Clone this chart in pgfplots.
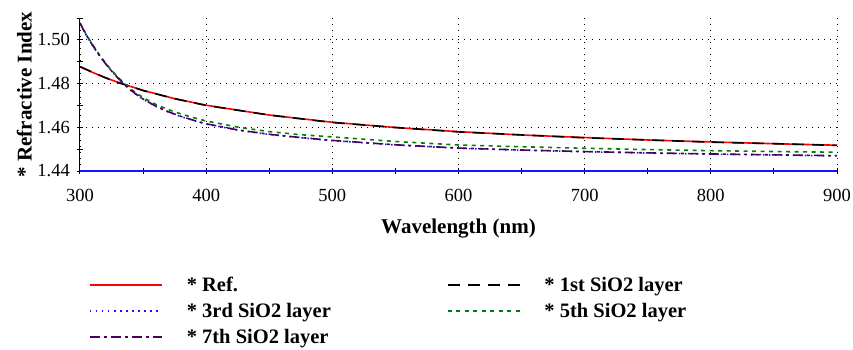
\documentclass[border=0pt]{standalone}
\usepackage{fontspec}
\setmainfont{Liberation Serif}
\usepackage{pgfplots}
\usepackage{pgfplotstable}
\pgfplotsset{compat=1.18}

\definecolor{refred}{RGB}{255,0,0}
\definecolor{layblue}{RGB}{20,20,255}
\definecolor{laygreen}{RGB}{0,128,0}
\definecolor{laypurple}{RGB}{72,0,96}

% Reference index of bulk silica
\pgfplotstableread{
wl n
300 1.4878
310 1.4851
320 1.4827
330 1.4806
340 1.4787
350 1.4769
375 1.4731
400 1.4701
450 1.4656
500 1.4623
550 1.4599
600 1.4580
650 1.4565
700 1.4553
750 1.4542
800 1.4533
850 1.4525
900 1.4518
}\refdata

% 1st SiO2 layer
\pgfplotstableread{
wl n
300 1.4877
310 1.4852
320 1.4827
330 1.4805
340 1.4787
350 1.4768
375 1.4731
400 1.4700
450 1.4656
500 1.4622
550 1.4599
600 1.4579
650 1.4565
700 1.4552
750 1.4542
800 1.4532
850 1.4525
900 1.4517
}\firstdata

% 3rd SiO2 layer
\pgfplotstableread{
wl n
300 1.5075
305 1.5021
310 1.4974
315 1.4931
320 1.4892
325 1.4857
330 1.4825
335 1.4796
340 1.4770
345 1.4748
350 1.4728
360 1.4696
370 1.4670
380 1.4649
390 1.4631
400 1.4615
425 1.4587
450 1.4567
475 1.4552
500 1.4539
550 1.4519
600 1.4504
650 1.4495
700 1.4488
750 1.4482
800 1.4477
850 1.4473
900 1.4469
}\thirddata

% 5th SiO2 layer
\pgfplotstableread{
wl n
300 1.5078
305 1.5024
310 1.4978
315 1.4935
320 1.4896
325 1.4861
330 1.4830
335 1.4801
340 1.4776
345 1.4755
350 1.4736
360 1.4705
370 1.4681
380 1.4661
390 1.4644
400 1.4629
425 1.4601
450 1.4580
475 1.4566
500 1.4556
550 1.4535
600 1.4519
650 1.4511
700 1.4504
750 1.4498
800 1.4493
850 1.4489
900 1.4486
}\fifthdata

% 7th SiO2 layer
\pgfplotstableread{
wl n
300 1.5076
305 1.5022
310 1.4975
315 1.4932
320 1.4893
325 1.4858
330 1.4826
335 1.4797
340 1.4771
345 1.4749
350 1.4729
360 1.4697
370 1.4671
380 1.4650
390 1.4632
400 1.4616
425 1.4588
450 1.4568
475 1.4553
500 1.4540
550 1.4520
600 1.4505
650 1.4496
700 1.4489
750 1.4483
800 1.4478
850 1.4474
900 1.4470
}\seventhdata

\begin{document}
\begin{tikzpicture}
\useasboundingbox (-80pt,-178pt) rectangle (773pt,171pt);
\begin{axis}[
  scale only axis,
  width=757pt, height=153pt,
  xmin=300, xmax=900, ymin=1.44, ymax=1.51,
  axis x line*=bottom, axis y line*=left,
  x axis line style={layblue, line width=1.8pt, -},
  y axis line style={black, line width=1pt, -},
  xtick={300,400,...,900}, minor xtick={350,450,...,850},
  ytick={1.44,1.46,1.48,1.50}, minor ytick={1.45,1.47,1.49,1.51},
  tick align=center, major tick length=6pt, minor tick length=6pt,
  every tick/.style={black, line width=1pt},
  xmajorgrids, ymajorgrids,
  major grid style={black, line width=0.8pt, dash pattern=on 0.9pt off 5.2pt},
  /pgf/number format/assume math mode=true,
  yticklabel style={/pgf/number format/fixed, /pgf/number format/fixed zerofill,
    /pgf/number format/precision=2},
  xticklabel style={/pgf/number format/fixed,
    /pgf/number format/set thousands separator={}},
  ticklabel style={font=\fontsize{18.5}{20}\selectfont},
  xticklabel style={inner sep=0pt, anchor=north, yshift=-15pt},
  yticklabel style={inner sep=0pt, anchor=east, xshift=-7pt},
  xlabel={Wavelength (nm)},
  ylabel={* Refractive Index},
  xlabel style={font=\bfseries\fontsize{21}{24}\selectfont, inner sep=0pt,
    at={(axis description cs:0.5,0)}, anchor=north, yshift=-48pt},
  ylabel style={font=\bfseries\fontsize{21}{24}\selectfont, inner sep=0pt,
    at={(axis description cs:0,0.5)}, anchor=south, rotate=0, yshift=48pt},
  legend columns=2,
  legend cell align=left,
  legend image code/.code={\draw[#1] (0pt,0pt) -- (72pt,0pt);},
  legend style={
    at={(axis description cs:0,0)}, anchor=north west,
    xshift=6pt, yshift=-102pt,
    draw=none, fill=none,
    font=\bfseries\fontsize{20.5}{23}\selectfont,
    row sep=6pt,
    /tikz/every odd column/.append style={column sep=22pt},
    /tikz/every even column/.append style={column sep=114pt},
  },
]
\addplot[refred, solid, line width=1.6pt] table[x=wl, y=n] {\refdata};
\addlegendentry{* Ref.}
\addplot[black, dash pattern=on 12pt off 8pt, line width=1.6pt] table[x=wl, y=n] {\firstdata};
\addlegendentry{* 1st SiO2 layer}
\addplot[layblue, dash pattern=on 1.5pt off 4.5pt, line width=1.6pt] table[x=wl, y=n] {\thirddata};
\addlegendentry{* 3rd SiO2 layer}
\addplot[laygreen, dash pattern=on 4pt off 4.5pt, line width=1.6pt] table[x=wl, y=n] {\fifthdata};
\addlegendentry{* 5th SiO2 layer}
\addplot[laypurple, dash pattern=on 10pt off 4pt on 3pt off 4pt, line width=1.6pt] table[x=wl, y=n] {\seventhdata};
\addlegendentry{* 7th SiO2 layer}
\end{axis}
\end{tikzpicture}
\end{document}
